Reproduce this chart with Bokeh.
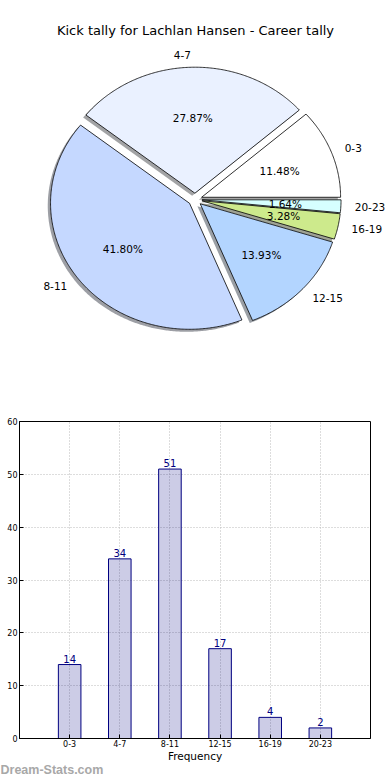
import numpy as np
from bokeh.plotting import figure
from bokeh.layouts import column
from bokeh.models import Range1d, FixedTicker
from bokeh.core.properties import value
from bokeh.embed import file_html
from bokeh.resources import INLINE

# ---------------- data ----------------
title = "Kick tally for Lachlan Hansen - Career tally"
categories = ["0-3", "4-7", "8-11", "12-15", "16-19", "20-23"]
counts = [14, 34, 51, 17, 4, 2]
slice_colors = ["#FFFFFF", "#EAF1FF", "#C5D8FF", "#B3D5FF", "#CDEA8C", "#D6FFFF"]
y_ticks = [0, 10, 20, 30, 40, 50, 60]
x_label = "Frequency"
watermark = "Dream-Stats.com"

FONT = "DejaVu Sans"
W = 390
PIE_H = 408

# pie geometry (screen-pixel units, y up)
CX, CY = 194.6, PIE_H - 199.0
RX, RY = 139.0, 126.0
explode = 0.05
shadow_off = -0.02

# ---------------- pie ----------------
total = float(sum(counts))
fracs = np.array(counts, dtype=float) / total
ends = np.cumsum(fracs) * 2 * np.pi
starts = np.concatenate([[0.0], ends[:-1]])

pie = figure(width=W, height=PIE_H,
             x_range=Range1d(0, W), y_range=Range1d(0, PIE_H),
             output_backend="svg", toolbar_location=None,
             x_axis_location=None, y_axis_location=None, min_border=0)
pie.grid.visible = False
pie.outline_line_color = None

wx, wy, shx, shy, shc = [], [], [], [], []
lab_r = {"x": [], "y": [], "t": []}
lab_l = {"x": [], "y": [], "t": []}
pct = {"x": [], "y": [], "t": []}
for s, e, c, cat, f in zip(starts, ends, slice_colors, categories, fracs):
    mid = 0.5 * (s + e)
    ox, oy = explode * np.cos(mid), explode * np.sin(mid)
    n = max(int((e - s) / 0.01), 6)
    t = np.linspace(s, e, n)
    ux = np.concatenate([[ox], ox + np.cos(t), [ox]])
    uy = np.concatenate([[oy], oy + np.sin(t), [oy]])
    wx.append((CX + RX * ux).tolist()); wy.append((CY + RY * uy).tolist())
    shx.append((CX + RX * (ux + shadow_off)).tolist())
    shy.append((CY + RY * (uy + shadow_off)).tolist())
    r, g, b = int(c[1:3], 16), int(c[3:5], 16), int(c[5:7], 16)
    shc.append("#%02x%02x%02x" % (int(r * 0.3), int(g * 0.3), int(b * 0.3)))
    lx, ly = ox + 1.1 * np.cos(mid), oy + 1.1 * np.sin(mid)
    d = lab_l if lx > 0 else lab_r
    d["x"].append(CX + RX * lx); d["y"].append(CY + RY * ly); d["t"].append(cat)
    pct["x"].append(CX + RX * (ox + 0.6 * np.cos(mid)))
    pct["y"].append(CY + RY * (oy + 0.6 * np.sin(mid)))
    pct["t"].append("%.2f%%" % (f * 100))

pie.patches(shx, shy, fill_color=shc, fill_alpha=0.5, line_color=None)
pie.patches(wx, wy, fill_color=slice_colors, line_color="black", line_width=0.8)
pie.text(x=lab_l["x"], y=lab_l["y"], text=lab_l["t"], text_align="left", text_baseline="middle",
         text_font=value(FONT), text_font_size="10.5px", text_color="black")
pie.text(x=lab_r["x"], y=lab_r["y"], text=lab_r["t"], text_align="right", text_baseline="middle",
         text_font=value(FONT), text_font_size="10.5px", text_color="black")
pie.text(x=pct["x"], y=pct["y"], text=pct["t"], text_align="center", text_baseline="middle",
         text_font=value(FONT), text_font_size="10.5px", text_color="black")
pie.text(x=[W / 2], y=[PIE_H - 30], text=[title], text_align="center", text_baseline="middle",
         text_font=value(FONT), text_font_size="13px", text_color="black")

# ---------------- bar ----------------
xpos = [i + 1 for i in range(len(categories))]
bar = figure(width=W, height=356, x_range=Range1d(0, 7), y_range=Range1d(0, 60),
             output_backend="svg", toolbar_location=None,
             min_border_top=13, min_border_bottom=24, min_border_left=19, min_border_right=20)
bar.vbar(x=xpos, top=counts, width=0.45, fill_color="navy", fill_alpha=0.2,
         line_color="navy", line_width=1)
bar.text(x=xpos, y=counts, text=[str(c) for c in counts], text_align="center",
         text_baseline="bottom", y_offset=-2, text_color="navy",
         text_font=value(FONT), text_font_size="10px")

bar.xaxis.ticker = FixedTicker(ticks=xpos)
bar.xaxis.major_label_overrides = {int(x): c for x, c in zip(xpos, categories)}
bar.yaxis.ticker = FixedTicker(ticks=y_ticks)
for ax in (bar.xaxis, bar.yaxis):
    ax.major_tick_in = 4
    ax.major_tick_out = 0
    ax.major_tick_line_color = "black"
    ax.minor_tick_line_color = None
    ax.major_label_text_font = FONT
    ax.major_label_text_font_size = "8px"
    ax.major_label_text_color = "black"
    ax.major_label_standoff = 2
    ax.axis_line_color = "black"
bar.xaxis.major_label_standoff = 1
bar.xaxis.axis_label = x_label
bar.xaxis.axis_label_text_font = FONT
bar.xaxis.axis_label_text_font_size = "10.5px"
bar.xaxis.axis_label_text_font_style = "normal"
bar.xaxis.axis_label_text_color = "black"
bar.xaxis.axis_label_standoff = 0
bar.grid.grid_line_color = "#bbbbbb"
bar.grid.grid_line_dash = "1 2"
bar.grid.grid_line_alpha = 1
bar.outline_line_color = "black"
bar.outline_line_alpha = 1
bar.outline_line_width = 1

# ---------------- watermark strip ----------------
WM_H = 16
wm = figure(width=W, height=WM_H, x_range=Range1d(0, W), y_range=Range1d(0, WM_H),
            output_backend="svg", toolbar_location=None,
            x_axis_location=None, y_axis_location=None, min_border=0)
wm.grid.visible = False
wm.outline_line_color = None
wm.text(x=[0], y=[WM_H - 5.5], text=[watermark], text_align="left", text_baseline="middle",
        text_font=value("Liberation Sans"), text_font_size="12.5px", text_font_style="bold",
        text_color="#a8a8a8")

# each figure in its own column so plot frames are not aligned to each other
layout = column(column(pie), column(bar), column(wm), spacing=0)
open("out.html", "w").write(file_html(layout, INLINE))
